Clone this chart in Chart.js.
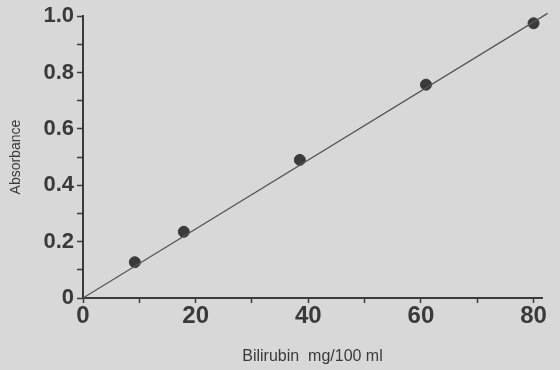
<!DOCTYPE html>
<html>
<head>
<meta charset="utf-8">
<script src="https://cdn.jsdelivr.net/npm/chart.js@4"></script>
<style>
  html, body { margin: 0; padding: 0; background: #d8d8d8; }
  #wrap { width: 560px; height: 370px; }
</style>
</head>
<body>
<div id="wrap"><canvas id="myChart"></canvas></div>
<script>
// measured points
const bilirubin = [9.2, 17.9, 38.5, 60.9, 80.0];
const absorbance = [0.127, 0.235, 0.49, 0.757, 0.975];
// fitted calibration line (drawn end to end)
const lineX = [0, 82.5];
const lineY = [0, 1.01];
const xTickValues = [0, 10, 20, 30, 40, 50, 60, 70, 80];
const xLabelValues = [0, 20, 40, 60, 80];
const yLabelValues = [0, 0.2, 0.4, 0.6, 0.8, 1.0];

const ink = "#3a3a3a";
const near = (a, b) => Math.abs(a - b) < 1e-6;

new Chart("myChart", {
  type: "scatter",
  data: {
    datasets: [{
      type: "line",
      data: lineX.map((x, i) => ({x: x, y: lineY[i]})),
      borderColor: "#555",
      borderWidth: 1.2,
      pointRadius: 0,
      fill: false,
      clip: false
    }, {
      data: bilirubin.map((x, i) => ({x: x, y: absorbance[i]})),
      backgroundColor: ink,
      borderColor: ink,
      pointRadius: 5.5,
      clip: false
    }]
  },
  options: {
    responsive: true,
    maintainAspectRatio: false,
    animation: false,
    layout: {padding: {top: 15, right: 18, left: 0, bottom: 0}},
    plugins: {legend: {display: false}, tooltip: {enabled: false}},
    scales: {
      x: {
        type: "linear",
        min: 0,
        max: 81.5,
        afterBuildTicks: axis => {
          axis.ticks = xTickValues.map(v => ({value: v}));
        },
        afterFit: scale => { scale.height = 72; },
        grid: {drawOnChartArea: false, drawTicks: true, tickLength: 5, tickColor: ink, tickWidth: 1.5},
        border: {display: true, color: ink, width: 2},
        ticks: {
          padding: -1,
          color: ink,
          maxRotation: 0,
          autoSkip: false,
          font: {family: "Liberation Sans", size: 24, weight: "bold"},
          callback: v => xLabelValues.some(l => near(l, v)) ? String(v) : ""
        },
        title: {
          display: true,
          text: "Bilirubin  mg/100 ml",
          color: ink,
          font: {family: "Liberation Sans", size: 16},
          padding: {top: 0, bottom: 4}
        }
      },
      y: {
        min: 0,
        max: 1.0,
        afterFit: scale => { scale.width = 83; },
        grid: {drawOnChartArea: false, drawTicks: true, tickLength: 6, tickColor: ink, tickWidth: 1.5},
        border: {display: true, color: ink, width: 2},
        ticks: {
          stepSize: 0.1,
          padding: 3,
          color: ink,
          autoSkip: false,
          font: {family: "Liberation Sans", size: 22, weight: "bold"},
          callback: v => {
            const l = yLabelValues.find(l => near(l, v));
            if (l === undefined) return "";
            return l === 0 ? "0" : l.toFixed(1);
          }
        },
        title: {
          display: true,
          text: "Absorbance",
          color: ink,
          font: {family: "Liberation Sans", size: 14},
          padding: {top: 8, bottom: 0}
        }
      }
    }
  }
});
</script>
</body>
</html>
